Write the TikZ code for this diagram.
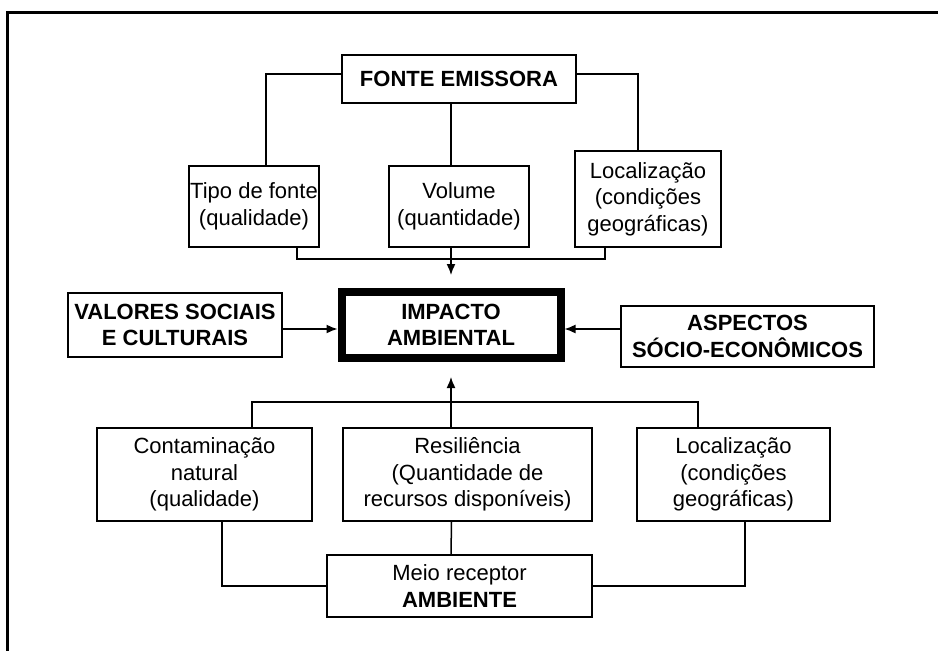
\documentclass[tikz,border=0pt]{standalone}
\usepackage{fontspec}
\setmainfont{Liberation Sans}
\usetikzlibrary{arrows.meta}

\tikzset{
  box/.style={draw, line width=1.5pt, align=center, inner sep=0pt},
  heavy/.style={draw, line width=8pt, align=center, inner sep=0pt},
  link/.style={line width=1.5pt},
  push/.style={link, -{Latex[length=11pt,width=9pt]}}
}

\begin{document}
\begin{tikzpicture}[x=1pt, y=-1pt, font=\fontsize{22}{26.5}\selectfont]

      \useasboundingbox (0,0) rectangle (938,651);
      \draw[line width=3pt] (938,12) -- (7,12) -- (7,651);

      \begin{scope}[every node/.style={box}]
        \node (fonte)    at (459,79)    [minimum width=234pt, minimum height=48pt] {\bfseries FONTE EMISSORA};
        \node (tipo)     at (254,206.5) [minimum width=130pt, minimum height=81pt] {Tipo de fonte\\(qualidade)};
        \node (vol)      at (459,206.5) [minimum width=140pt, minimum height=81pt] {Volume\\(quantidade)};
        \node (loc1)     at (648,199)   [minimum width=146pt, minimum height=96pt] {Localização\\(condições\\geográficas)};
        \node (valores)  at (175,325)   [minimum width=214pt, minimum height=64pt] {\bfseries VALORES SOCIAIS\\\bfseries E CULTURAIS};
        \node (aspectos) at (747.5,336.5) [minimum width=253pt, minimum height=61pt] {\bfseries ASPECTOS\\\bfseries SÓCIO-ECONÔMICOS};
        \node (contam)   at (204.5,474.5) [minimum width=215pt, minimum height=93pt] {Contaminação\\natural\\(qualidade)};
        \node (resil)    at (467.5,474.5) [minimum width=249pt, minimum height=93pt] {Resiliência\\(Quantidade de\\recursos disponíveis)};
        \node (loc2)     at (733.5,474.5) [minimum width=193pt, minimum height=93pt] {Localização\\(condições\\geográficas)};
        \node (meio)     at (459.5,586) [minimum width=265pt, minimum height=62pt] {Meio receptor\\\bfseries AMBIENTE};
      \end{scope}

      \node[heavy] (impacto) at (451,325) [minimum width=219pt, minimum height=66pt] {\bfseries IMPACTO\\\bfseries AMBIENTAL};

      \coordinate (jt) at (451,259);
      \coordinate (jb) at (451,402);

      % emissora side
      \draw[link] ([yshift=5pt]fonte.west) -| ([xshift=12pt]tipo.north);
      \draw[link] ([yshift=5pt]fonte.east) -| ([xshift=-10pt]loc1.north);
      \draw[link] ([xshift=-8pt]fonte.south) -- ([xshift=-8pt]vol.north);
      \draw[link] ([xshift=43pt]tipo.south) |- (jt) -| ([xshift=-43pt]loc1.south);
      \draw[push, shorten >=13pt] ([xshift=-8pt]vol.south) -- (impacto.north);

      % side arrows
      \draw[push] ([yshift=-4pt]valores.east) -- ([yshift=-4pt]impacto.west);
      \draw[push] ([yshift=7.5pt]aspectos.west) -- ([yshift=-4pt]impacto.east);

      % receptor side
      \draw[link] ([xshift=47.5pt]contam.north) |- (jb) -| ([xshift=-35.5pt]loc2.north);
      \draw[push, shorten >=15pt] ([xshift=-16.5pt]resil.north) -- (impacto.south);
      \draw[link] ([xshift=-16pt]resil.south) -- ([xshift=-8.5pt]meio.north);
      \draw[link] (meio.west) -| ([xshift=17.5pt]contam.south);
      \draw[link] (meio.east) -| ([xshift=11.5pt]loc2.south);

\end{tikzpicture}
\end{document}
